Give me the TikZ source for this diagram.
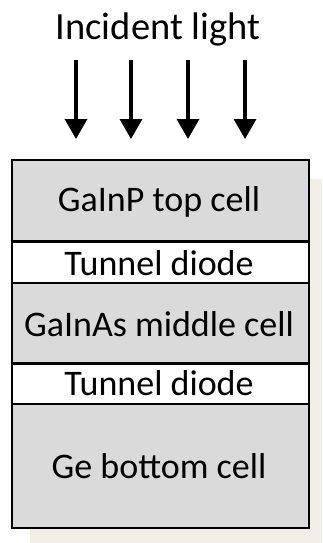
\documentclass[tikz,border=0pt]{standalone}
\usepackage{fontspec}
\setmainfont{Carlito}
\usetikzlibrary{arrows.meta}
\definecolor{cellgray}{HTML}{DADADA}
\definecolor{shadowtint}{HTML}{F2F0E6}
\tikzset{
  layer/.style={draw=black, line width=2.6pt, minimum width=297pt, inner sep=0pt, anchor=north west},
  cell/.style={layer, fill=cellgray},
  diode/.style={layer, fill=white},
  tag/.style={anchor=base, inner sep=0pt, font=\fontsize{36}{40}\selectfont},
  ray/.style={line width=3.6pt, -{Triangle[length=20pt, width=22pt]}},
}
\begin{document}
\begin{tikzpicture}[x=1pt, y=-1pt]
  \useasboundingbox (0,0) rectangle (322,543);
  \fill[white] (0,0) rectangle (322,543);
  % drop shadow behind the stack
  \fill[shadowtint] (30,179) rectangle (322,543);

  \node[anchor=base, inner sep=0pt, font=\fontsize{38.5}{42}\selectfont] (title) at (158,40) {Incident light};

  % layer stack, top to bottom
  \node[cell,  minimum height=81.5pt] (top)  at (10.5,158.5) {};
  \node[diode, minimum height=41.5pt] (td1)  at (10.5,240)   {};
  \node[cell,  minimum height=80.5pt] (mid)  at (10.5,281.5) {};
  \node[diode, minimum height=40.5pt] (td2)  at (10.5,362)   {};
  \node[cell,  minimum height=124pt]  (bot)  at (10.5,402.5) {};

  % layer names, set on their baselines
  \node[tag] (toplabel) at (159,211.5) {GaInP top cell};
  \node[tag] (td1label) at (159,275)   {Tunnel diode};
  \node[tag] (midlabel) at (159,336)   {GaInAs middle cell};
  \node[tag] (td2label) at (159,395)   {Tunnel diode};
  \node[tag] (botlabel) at (159,478)   {Ge bottom cell};

  % incoming rays
  \foreach \i/\x in {1/76,2/131,3/188,4/245}{
    \coordinate (s\i) at (\x,60);
    \coordinate (e\i) at (\x,139);
    \draw[ray] (s\i) -- (e\i);
  }
\end{tikzpicture}
\end{document}
